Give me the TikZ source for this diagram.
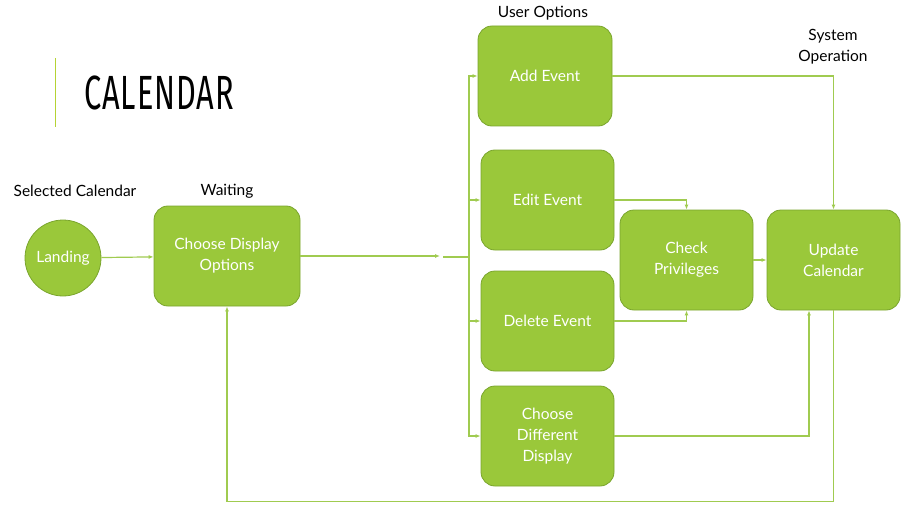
\documentclass[tikz,border=0pt]{standalone}
\usepackage{fontspec}
\setmainfont{Lato}
\newfontfamily\titlefont[FakeStretch=0.64,LetterSpace=2]{Fira Sans}
\usetikzlibrary{arrows.meta}
\definecolor{boxfill}{RGB}{154,200,58}
\definecolor{boxline}{RGB}{122,165,45}
\definecolor{conn}{RGB}{160,203,80}
\definecolor{accent}{RGB}{181,211,52}
\tikzset{
  box/.style={draw=boxline, fill=boxfill, rounded corners=14pt, line width=0.8pt,
    text=white, align=center, font=\fontsize{15.5}{21}\selectfont,
    minimum width=133pt, minimum height=100pt, inner sep=2pt},
  circ/.style={draw=boxline, fill=boxfill, circle, line width=0.8pt, text=white,
    font=\fontsize{15.5}{17}\selectfont, minimum size=76pt, inner sep=0pt},
  lbl/.style={font=\fontsize{15.5}{21}\selectfont, text=black, align=center},
  conline/.style={draw=conn, line width=1.2pt},
  arr/.style={conline, -{Latex[length=5pt,width=4pt]}},
}
\begin{document}
\begin{tikzpicture}[x=1pt,y=-1pt]
\useasboundingbox (0,0) rectangle (914,511);
% title
\draw[accent, line width=1pt] (55,58) -- (55,127);
\node[anchor=west, inner sep=0pt, font=\titlefont\fontsize{48}{50}\selectfont] (title) at (84,93) {CALENDAR};
% nodes
\node[circ] (land) at (63,258) {Landing};
\node[box, minimum width=146pt] (cdo) at (227,256) {Choose Display\\Options};
\node[box, minimum width=134pt] (add) at (545,76) {Add Event};
\node[box] (edit) at (547.5,200) {Edit Event};
\node[box] (del) at (547.5,321) {Delete Event};
\node[box] (cdd) at (547.5,436) {Choose\\Different\\Display};
\node[box] (chk) at (686.5,260) {Check\\Privileges};
\node[box] (upd) at (833.5,260) {Update\\Calendar};
% labels
\node[lbl] (l1) at (75,191) {Selected Calendar};
\node[lbl] (l2) at (227,191) {Waiting};
\node[lbl] (l3) at (543,13) {User Options};
\node[lbl] (l4) at (833,47) {System\\Operation};
% connectors
\draw[arr] (land) -- (cdo);
\coordinate (j1) at (440,256);
\coordinate (j2) at (443,257);
\coordinate (bus) at (469,257);
\draw[arr] (cdo.east) -- (j1);
\draw[conline] (j2) -- (bus);
\draw[arr] (bus) |- (add.west);
\draw[arr] (bus) |- (edit.west);
\draw[arr] (bus) |- (del.west);
\draw[arr] (bus) |- (cdd.west);
\draw[arr] (add.east) -| (upd.north);
\draw[arr] (edit.east) -| (chk.north);
\draw[arr] (del.east) -| (chk.south);
\draw[arr] (chk.east) -- (upd.west);
\draw[arr] (cdd.east) -| ([xshift=-24.5pt]upd.south);
\draw[arr] (upd.south) -- ++(0,191) -| (cdo.south);
\end{tikzpicture}
\end{document}
